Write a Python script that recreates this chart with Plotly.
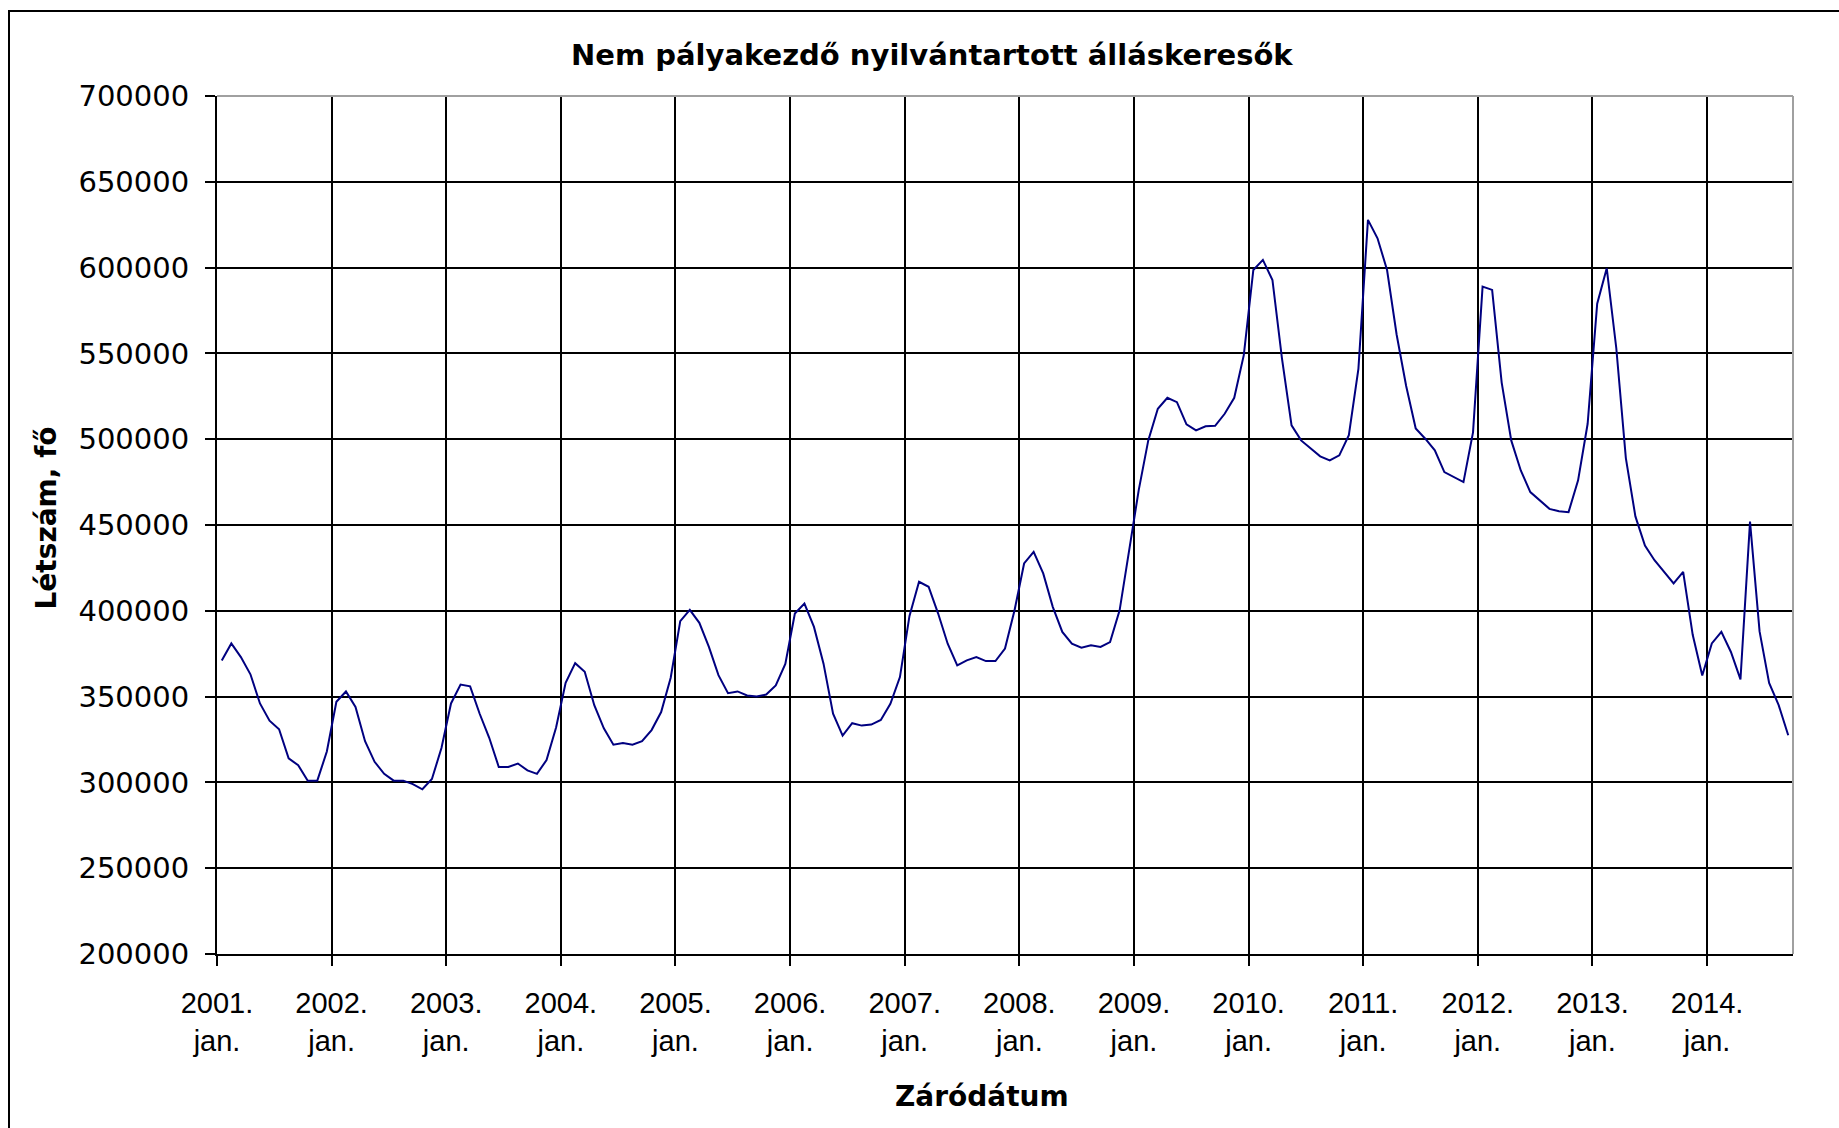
import plotly.graph_objects as go

# Monthly registered job seekers (non-school-leavers), Jan 2001 - Sep 2014
v2001 = [371000, 381000, 373000, 363000, 346000, 336000, 331000, 314000, 310000, 301000, 301000, 318000]
v2002 = [347000, 353000, 344000, 324000, 312000, 305000, 301000, 301000, 299000, 296000, 302000, 320000]
v2003 = [346000, 357000, 356000, 340000, 326000, 309000, 309000, 311000, 307000, 305000, 313000, 332000]
v2004 = [358000, 369500, 364500, 345000, 331500, 322000, 323000, 322000, 324000, 330500, 341000, 361000]
v2005 = [394000, 400500, 393000, 379000, 362500, 352000, 353000, 350700, 350000, 351200, 356500, 369000]
v2006 = [398400, 404200, 390600, 369200, 340000, 327300, 334500, 333100, 333700, 336400, 345800, 361400]
v2007 = [397000, 416900, 414000, 398400, 380800, 368200, 371100, 373000, 370700, 370700, 378000, 400300]
v2008 = [427600, 434400, 421800, 402300, 387700, 380800, 378500, 379900, 378900, 381800, 400300, 435000]
v2009 = [470300, 499300, 517700, 524100, 521600, 508600, 505100, 507500, 507800, 514800, 524100, 549000]
v2010 = [598600, 604500, 592800, 547000, 508100, 499300, 494500, 490000, 487700, 490600, 502300, 541000]
v2011 = [627800, 617100, 598600, 561000, 531000, 506200, 500300, 493500, 480800, 477900, 475000, 504000]
v2012 = [588900, 587000, 533000, 499300, 481800, 469200, 464300, 459400, 458000, 457500, 476000, 509000]
v2013 = [579000, 599600, 553000, 489000, 455000, 438000, 429500, 423000, 416000, 422700, 386000, 362300]
v2014 = [381000, 387700, 376000, 360000, 452000, 388000, 358000, 345000, 327500]

values = (v2001 + v2002 + v2003 + v2004 + v2005 + v2006 + v2007
          + v2008 + v2009 + v2010 + v2011 + v2012 + v2013 + v2014)

years = list(range(2001, 2015))
tick_labels = [f"{y}.<br>jan." for y in years]

y_min, y_max, y_step = 200000, 700000, 50000

# each month sits in the middle of its category slot
months_idx = list(range(len(values)))
x_pos = [i + 0.5 for i in months_idx]
year_ticks = [12 * k for k in range(len(years))]

x_tick_font = dict(family="Liberation Sans, Arial, sans-serif", size=29, color="#000")
y_tick_font = dict(family="DejaVu Sans, Verdana, sans-serif", size=29, color="#000")
bold_font = dict(family="DejaVu Sans, Verdana, sans-serif", size=28, color="#000")

fig = go.Figure()
fig.add_trace(go.Scatter(
    x=x_pos, y=values, mode="lines",
    line=dict(color="#000080", width=2),
    showlegend=False,
))

L, R, T, B = 217, 46, 96, 174
W, H = 1839, 1128
pw, ph = W - L - R, H - T - B


def px_x(px):
    return (px - L) / pw


def px_y(py):
    return (H - B - py) / ph


fig.update_layout(
    width=W, height=H,
    margin=dict(l=L, r=R, t=T, b=B, pad=0),
    paper_bgcolor="white", plot_bgcolor="white",
    showlegend=False,
    xaxis=dict(
        range=[0, len(values)],
        tickmode="array", tickvals=year_ticks, ticktext=tick_labels,
        ticks="outside", ticklen=10, tickwidth=1.5, tickcolor="#000",
        showgrid=True, gridcolor="#000", gridwidth=2,
        showline=True, linecolor="#000", linewidth=2,
        zeroline=False, tickfont=x_tick_font, ticklabelstandoff=12,
    ),
    yaxis=dict(
        range=[y_min, y_max], tick0=y_min, dtick=y_step, tickformat="d",
        ticks="outside", ticklen=10, tickwidth=1.5, tickcolor="#000",
        showgrid=True, gridcolor="#000", gridwidth=2,
        showline=True, linecolor="#000", linewidth=2,
        zeroline=False, tickfont=y_tick_font, ticklabelstandoff=10,
    ),
    annotations=[
        dict(text="<b>Nem pályakezdő nyilvántartott álláskeresők</b>",
             xref="paper", yref="paper", x=px_x(931.5), y=px_y(55),
             xanchor="center", yanchor="middle", showarrow=False,
             font=dict(bold_font, size=29)),
        dict(text="<b>Létszám, fő</b>",
             xref="paper", yref="paper", x=px_x(46), y=px_y(518.5),
             xanchor="center", yanchor="middle", showarrow=False,
             textangle=-90, font=bold_font),
        dict(text="<b>Záródátum</b>",
             xref="paper", yref="paper", x=px_x(982), y=px_y(1096),
             xanchor="center", yanchor="middle", showarrow=False, font=bold_font),
    ],
    shapes=[
        # grey plot-area frame on top and right
        dict(type="line", xref="paper", yref="paper", x0=0, x1=1, y0=1, y1=1,
             line=dict(color="#a0a0a0", width=2), layer="above"),
        dict(type="line", xref="paper", yref="paper", x0=1, x1=1, y0=0, y1=1,
             line=dict(color="#a0a0a0", width=2), layer="above"),
        # outer chart border
        dict(type="rect", xref="paper", yref="paper",
             x0=px_x(9), x1=px_x(W + 20), y0=px_y(H + 20), y1=px_y(11),
             line=dict(color="#000", width=2), fillcolor="rgba(0,0,0,0)", layer="below"),
    ],
)

fig.write_html("out.html")
